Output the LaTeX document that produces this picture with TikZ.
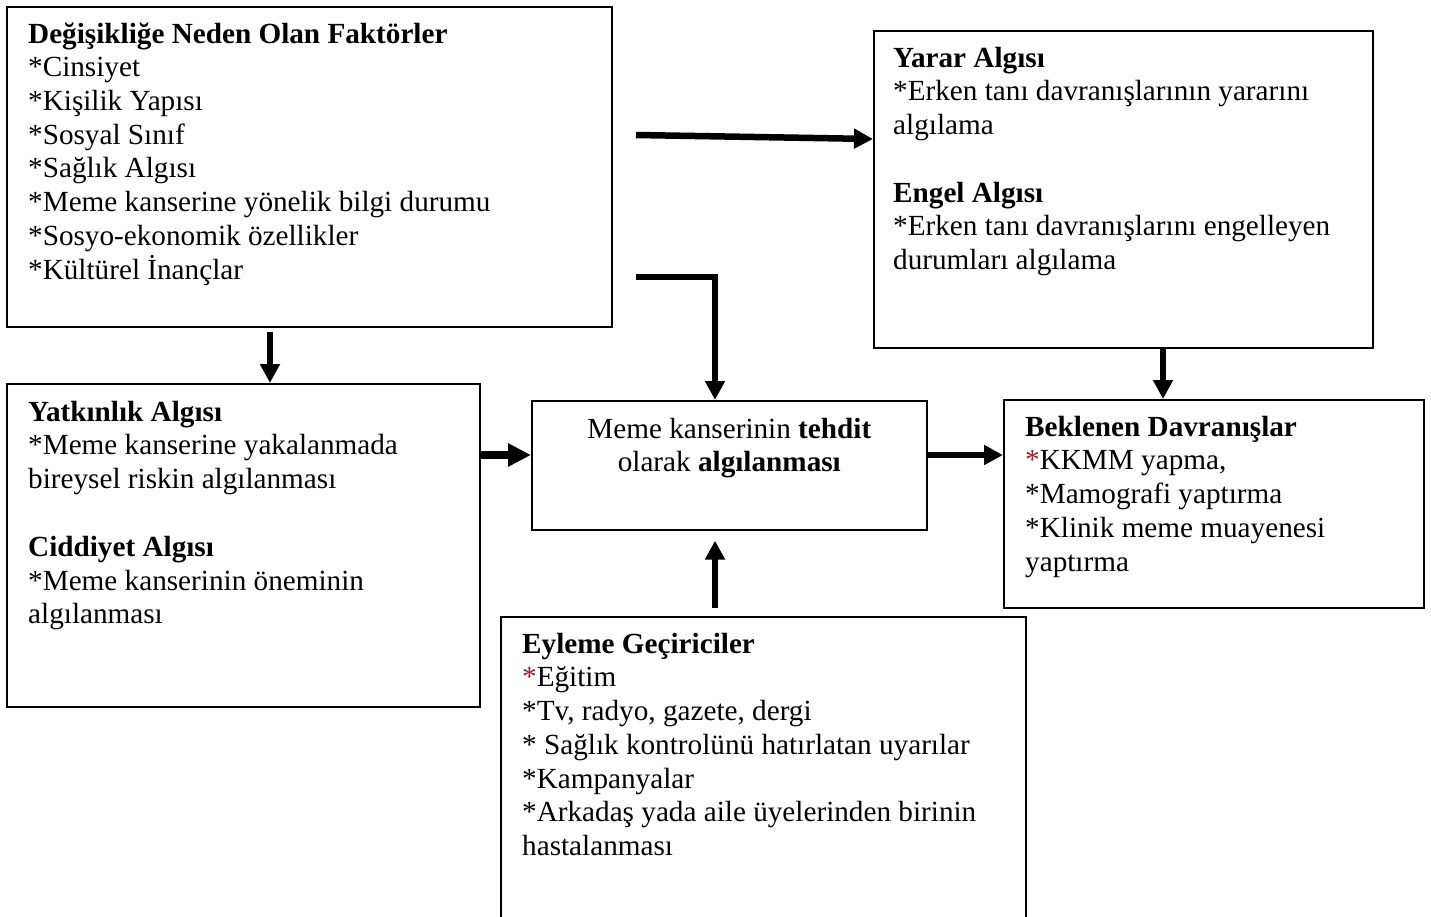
\documentclass[tikz,border=0pt]{standalone}
\usepackage{fontspec}
\setmainfont{Liberation Serif}
\usetikzlibrary{arrows.meta,calc}
\definecolor{astred}{RGB}{165,28,28}
\newcommand{\fs}{\fontsize{29.2pt}{33.7pt}\selectfont}
\begin{document}
\begin{tikzpicture}[x=1pt,y=-1pt,
  box/.style={draw,line width=1.6pt,inner sep=0pt,anchor=north west},
  txt/.style={anchor=north west,inner sep=0pt,align=left,font=\fs},
  ctxt/.style={anchor=north,inner sep=0pt,align=center,font=\fs},
  arr/.style={line width=6.5pt,-{Triangle[length=19pt,width=19pt]}},
  arrthick/.style={line width=8pt,-{Triangle[length=23pt,width=22pt]}}]
\clip (0,0) rectangle (1431,916);
\fill[white] (0,0) rectangle (1431,916);
% boxes
\node[box,minimum width=605pt,minimum height=320pt] (A) at (6,6) {};
\node[box,minimum width=499pt,minimum height=317pt] (B) at (873,30) {};
\node[box,minimum width=473pt,minimum height=323pt] (C) at (6,383) {};
\node[box,minimum width=395pt,minimum height=129pt] (D) at (531,400) {};
\node[box,minimum width=420pt,minimum height=208pt] (E) at (1003,399) {};
\node[box,minimum width=525pt,minimum height=340pt] (F) at (500,616) {};
% texts
\node[txt] (At) at ($(A.north west)+(22,13.4)$) {\strut\textbf{Değişikliğe Neden Olan Faktörler}\\
*Cinsiyet\\*Kişilik Yapısı\\*Sosyal Sınıf\\*Sağlık Algısı\\*Meme kanserine yönelik bilgi durumu\\
*Sosyo-ekonomik özellikler\\*Kültürel İnançlar};
\node[txt] (Bt) at ($(B.north west)+(20,13.4)$) {\strut\textbf{Yarar Algısı}\\
*Erken tanı davranışlarının yararını\\algılama\\[34pt]
\textbf{Engel Algısı}\\*Erken tanı davranışlarını engelleyen\\durumları algılama};
\node[txt] (Ct) at ($(C.north west)+(22,14.4)$) {\strut\textbf{Yatkınlık Algısı}\\
*Meme kanserine yakalanmada\\bireysel riskin algılanması\\[34pt]
\textbf{Ciddiyet Algısı}\\*Meme kanserinin öneminin\\algılanması};
\node[ctxt] (Dt) at ($(D.north)+(0,14.4)$) {\strut Meme kanserinin \textbf{tehdit}\\olarak \textbf{algılanması}};
\node[txt] (Et) at ($(E.north west)+(22,13.4)$) {\strut\textbf{Beklenen Davranışlar}\\
\textcolor{astred}{*}KKMM yapma,\\*Mamografi yaptırma\\*Klinik meme muayenesi\\yaptırma};
\node[txt] (Ft) at ($(F.north west)+(22,13.4)$) {\strut\textbf{Eyleme Geçiriciler}\\
\textcolor{astred}{*}Eğitim\\*Tv, radyo, gazete, dergi\\* Sağlık kontrolünü hatırlatan uyarılar\\
*Kampanyalar\\*Arkadaş yada aile üyelerinden birinin\\hastalanması};
% connectors
\coordinate (t1) at (636,135);
\coordinate (t2) at (636,277);
\draw[arr] ($(A.south west)+(264,4)$) -- ($(C.north west)+(264,0)$);
\draw[arr] (t1) -- ($(B.north west)+(0,109)$);
\draw[arr] (t2) -| ($(D.north west)+(184,0)$);
\draw[arrthick] ($(C.north east)+(0,72)$) -- ($(D.north west)+(0,55)$);
\draw[arr] ($(D.north east)+(0,55)$) -- ($(E.north west)+(0,56)$);
\draw[arr] ($(B.south west)+(290,0)$) -- ($(E.north west)+(160,0)$);
\draw[arr] ($(F.north west)+(215,-8)$) -- ($(D.south west)+(184,10)$);
\end{tikzpicture}
\end{document}
